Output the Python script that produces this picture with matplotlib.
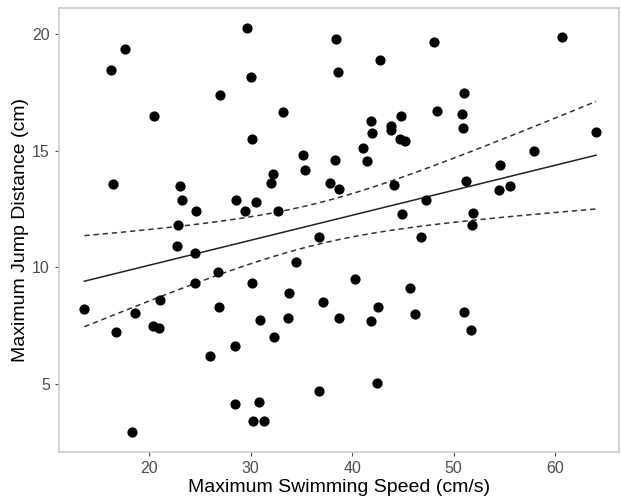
import numpy as np
import matplotlib
matplotlib.use("Agg")
import matplotlib.pyplot as plt

speed = [13.6, 16.26, 16.45, 16.75, 17.64, 18.33, 18.62, 20.49, 20.39, 20.99,
         21.08, 22.76, 22.86, 23.05, 23.25, 24.53, 24.63, 24.53, 26.01, 27.0,
         26.80, 26.90, 28.57, 28.47, 28.47, 29.46, 29.66, 30.05, 30.15, 30.15,
         30.25, 30.54, 30.84, 30.94, 31.33, 32.02, 32.22, 32.32, 32.71, 33.20,
         33.79, 33.69, 34.48, 35.17, 35.37, 36.75, 36.75, 37.14, 37.83, 38.42,
         38.33, 38.62, 38.72, 38.72, 40.30, 41.08, 41.48, 41.87, 41.97, 41.87,
         42.46, 42.56, 42.76, 43.84, 43.84, 44.14, 44.83, 44.73, 44.93, 45.22,
         45.71, 46.21, 46.80, 47.29, 48.08, 48.37, 51.03, 50.84, 50.94, 51.23,
         51.92, 51.82, 51.03, 51.72, 54.58, 54.48, 55.57, 57.93, 60.69, 64.04]
jump = [8.2, 18.46, 13.57, 7.23, 19.36, 2.94, 8.04, 16.49, 7.48, 7.40,
        8.60, 10.91, 11.81, 13.48, 12.88, 10.61, 12.41, 9.33, 6.20, 17.39,
        9.80, 8.30, 12.88, 6.63, 4.14, 12.41, 20.26, 18.16, 15.50, 9.33,
        3.41, 12.80, 4.23, 7.74, 3.41, 13.61, 14.0, 7.01, 12.41, 16.66,
        8.90, 7.83, 10.23, 14.81, 14.17, 11.30, 4.70, 8.51, 13.61, 19.79,
        14.60, 18.37, 13.36, 7.83, 9.50, 15.11, 14.56, 16.27, 15.76, 7.70,
        5.04, 8.30, 18.89, 16.06, 15.89, 13.53, 16.49, 15.50, 12.28, 15.41,
        9.11, 8.00, 11.30, 12.88, 19.66, 16.70, 17.47, 16.57, 15.97, 13.70,
        12.33, 11.81, 8.08, 7.31, 14.39, 13.31, 13.48, 14.99, 19.87, 15.80]

# regression line
fit_intercept = 7.955
fit_slope = 0.1069

x_ticks = [20, 30, 40, 50, 60]
y_ticks = [5, 10, 15, 20]

x = np.array(speed)
y = np.array(jump)
n = len(x)
xs = np.linspace(x.min(), x.max(), 200)
fit = fit_intercept + fit_slope * xs
resid = y - (fit_intercept + fit_slope * x)
s = np.sqrt(np.sum(resid**2) / (n - 2))
sxx = np.sum((x - x.mean())**2)
t = 1.987
se = s * np.sqrt(1.0 / n + (xs - x.mean())**2 / sxx)

plt.rcParams['font.family'] = ['Liberation Sans', 'DejaVu Sans']
fig = plt.figure(figsize=(6.21, 4.96), dpi=100)
ax = fig.add_axes([59/621, 1 - 452/496, (619 - 59)/621, (452 - 8)/496])

ax.scatter(x, y, s=54, color='black', zorder=3, linewidths=0)
ax.plot(xs, fit, color='#222222', lw=1.1)
ax.plot(xs, fit + t * se, color='#333333', lw=1.1, ls=(0, (3.5, 2.5)))
ax.plot(xs, fit - t * se, color='#333333', lw=1.1, ls=(0, (3.5, 2.5)))

ax.set_xlim(11.1, 66.3)
ax.set_ylim(2.1, 21.1)
ax.set_xticks(x_ticks)
ax.set_yticks(y_ticks)
for sp in ax.spines.values():
    sp.set_color('#cccccc')
    sp.set_linewidth(1.2)
ax.tick_params(colors='#4d4d4d', labelsize=11.5, length=3, width=0.8)
ax.set_xlabel('Maximum Swimming Speed (cm/s)', fontsize=14, labelpad=2)
ax.set_ylabel('Maximum Jump Distance (cm)', fontsize=14, labelpad=2)

fig.savefig('out.png', dpi=100)
